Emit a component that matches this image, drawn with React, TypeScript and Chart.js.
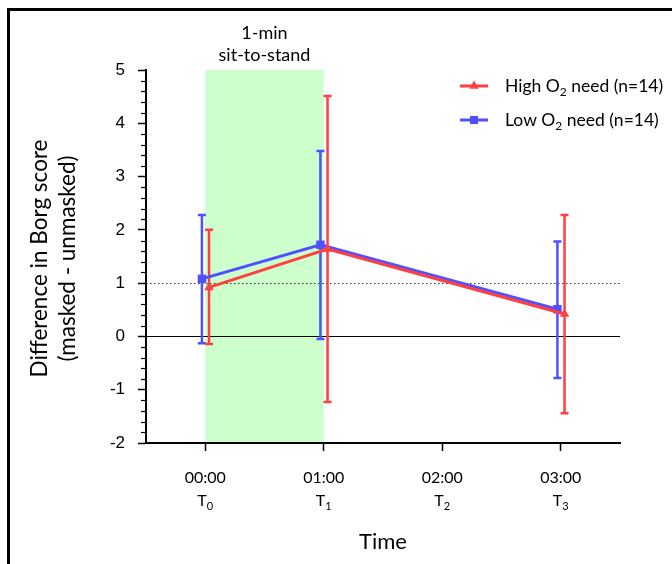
import React, { useEffect, useRef } from 'react';
import { Chart, registerables } from 'chart.js';

Chart.register(...registerables);

// ---- data ----
const timePoints = [0, 1, 3];
const tickHours = [0, 1, 2, 3];
const tickTimes = ['00:00', '01:00', '02:00', '03:00'];
const tickSubs = ['0', '1', '2', '3'];
const yMajorTicks = [-2, -1, 0, 1, 2, 3, 4, 5];

const highMean = [0.92, 1.64, 0.42];
const highLower = [-0.14, -1.23, -1.44];
const highUpper = [2.0, 4.51, 2.28];

const lowMean = [1.08, 1.72, 0.51];
const lowLower = [-0.13, -0.05, -0.78];
const lowUpper = [2.28, 3.48, 1.78];

const highLabelParts = ['High O', '2', ' need (n=14)'];
const lowLabelParts = ['Low O', '2', ' need (n=14)'];

const bandStart = 0;
const bandEnd = 1;
const bandLabel = ['1-min', 'sit-to-stand'];
const yTitle = ['Difference in Borg score', '(masked - unmasked)'];
const xTitle = 'Time';
const refLineDotted = 1;
const refLineSolid = 0;

const RED = '#ff4040';
const BLUE = '#5050ff';
const OFF_HIGH = 0.032;
const OFF_LOW = -0.028;

const LATO = 'Lato, "Open Sans", sans-serif';

function drawSubText(ctx: CanvasRenderingContext2D, parts: string[], x: number, y: number, size: number, align: 'left' | 'center') {
  ctx.font = `${size}px ${LATO}`;
  const w0 = ctx.measureText(parts[0]).width;
  const w2 = ctx.measureText(parts[2] || '').width;
  ctx.font = `${Math.round(size * 0.68)}px ${LATO}`;
  const w1 = ctx.measureText(parts[1]).width;
  const total = w0 + w1 + w2;
  let sx = align === 'center' ? x - total / 2 : x;
  ctx.textAlign = 'left';
  ctx.textBaseline = 'alphabetic';
  ctx.font = `${size}px ${LATO}`;
  ctx.fillText(parts[0], sx, y);
  ctx.font = `${Math.round(size * 0.68)}px ${LATO}`;
  ctx.fillText(parts[1], sx + w0, y + size * 0.22);
  ctx.font = `${size}px ${LATO}`;
  if (parts[2]) ctx.fillText(parts[2], sx + w0 + w1, y);
}

const customPlugin = {
  id: 'customDecor',
  beforeDraw(chart: any) {
    const { ctx, chartArea: ca, scales } = chart;
    const x = scales.x;
    ctx.save();
    ctx.fillStyle = '#000';
    ctx.fillRect(7, 8, chart.width - 7, 3);
    ctx.fillRect(7, 8, 3, chart.height - 8);
    const x0 = x.getPixelForValue(bandStart);
    const x1 = x.getPixelForValue(bandEnd);
    ctx.fillStyle = '#ccffcc';
    ctx.fillRect(x0, ca.top, x1 - x0, ca.bottom - ca.top);
    ctx.restore();
  },
  beforeDatasetsDraw(chart: any) {
    const { ctx, chartArea: ca, scales } = chart;
    const x = scales.x;
    const y = scales.y;
    ctx.save();
    // reference lines
    ctx.strokeStyle = '#000';
    ctx.lineWidth = 1.2;
    ctx.beginPath();
    const y0 = Math.round(y.getPixelForValue(refLineSolid)) + 0.5;
    ctx.moveTo(ca.left, y0);
    ctx.lineTo(ca.right, y0);
    ctx.stroke();
    ctx.setLineDash([1.5, 2.5]);
    ctx.lineWidth = 1;
    ctx.strokeStyle = '#333';
    ctx.beginPath();
    const y1 = Math.round(y.getPixelForValue(refLineDotted)) + 0.5;
    ctx.moveTo(ca.left, y1);
    ctx.lineTo(ca.right, y1);
    ctx.stroke();
    ctx.setLineDash([]);
    // error bars
    const series = [
      { lo: lowLower, hi: lowUpper, off: OFF_LOW, color: BLUE },
      { lo: highLower, hi: highUpper, off: OFF_HIGH, color: RED },
    ];
    series.forEach((s) => {
      ctx.strokeStyle = s.color;
      ctx.lineWidth = 2.5;
      timePoints.forEach((t, i) => {
        const px = x.getPixelForValue(t + s.off);
        const pLo = y.getPixelForValue(s.lo[i]);
        const pHi = y.getPixelForValue(s.hi[i]);
        ctx.beginPath();
        ctx.moveTo(px, pLo);
        ctx.lineTo(px, pHi);
        ctx.moveTo(px - 4, pLo);
        ctx.lineTo(px + 4, pLo);
        ctx.moveTo(px - 4, pHi);
        ctx.lineTo(px + 4, pHi);
        ctx.stroke();
      });
    });
    ctx.restore();
  },
  afterDraw(chart: any) {
    const { ctx, chartArea: ca, scales } = chart;
    const x = scales.x;
    const y = scales.y;
    ctx.save();
    // y minor ticks
    ctx.strokeStyle = '#000';
    ctx.lineWidth = 1.2;
    for (let k = -10; k <= 25; k++) {
      if (k % 5 === 0) continue;
      const v = k / 5;
      const py = Math.round(y.getPixelForValue(v)) + 0.5;
      ctx.beginPath();
      ctx.moveTo(ca.left - 5, py);
      ctx.lineTo(ca.left, py);
      ctx.stroke();
    }
    ctx.fillStyle = '#000';
    // x tick labels
    tickHours.forEach((h, i) => {
      const px = x.getPixelForValue(h);
      ctx.font = `16px ${LATO}`;
      ctx.textAlign = 'center';
      ctx.textBaseline = 'alphabetic';
      ctx.fillText(tickTimes[i], px, 483);
      drawSubText(ctx, ['T', tickSubs[i], ''], px, 506, 16, 'center');
    });
    // x title
    ctx.font = `22px ${LATO}`;
    ctx.textAlign = 'center';
    ctx.textBaseline = 'alphabetic';
    ctx.fillText(xTitle, (ca.left + ca.right) / 2, 549);
    // y title
    const cy = (ca.top + ca.bottom) / 2 + 2;
    [47, 75].forEach((bx, i) => {
      ctx.save();
      ctx.translate(bx, cy);
      ctx.rotate(-Math.PI / 2);
      ctx.font = `22.5px ${LATO}`;
      ctx.textAlign = 'center';
      ctx.textBaseline = 'alphabetic';
      ctx.fillText(yTitle[i], 0, 0);
      ctx.restore();
    });
    // band label
    const bx = (x.getPixelForValue(bandStart) + x.getPixelForValue(bandEnd)) / 2;
    ctx.font = `18px ${LATO}`;
    ctx.textAlign = 'center';
    ctx.fillText(bandLabel[0], bx, 39);
    ctx.fillText(bandLabel[1], bx, 61);
    // legend
    const legend = [
      { parts: highLabelParts, color: RED, style: 'triangle', ly: 86 },
      { parts: lowLabelParts, color: BLUE, style: 'rect', ly: 120 },
    ];
    legend.forEach((l) => {
      ctx.strokeStyle = l.color;
      ctx.fillStyle = l.color;
      ctx.lineWidth = 3;
      ctx.beginPath();
      ctx.moveTo(460, l.ly);
      ctx.lineTo(488, l.ly);
      ctx.stroke();
      ctx.beginPath();
      if (l.style === 'triangle') {
        const r = 5.5;
        ctx.moveTo(474, l.ly - r);
        ctx.lineTo(474 + r * 0.866, l.ly + r * 0.5);
        ctx.lineTo(474 - r * 0.866, l.ly + r * 0.5);
        ctx.closePath();
        ctx.fill();
      } else {
        ctx.fillRect(470, l.ly - 4, 8, 8);
      }
      ctx.fillStyle = '#000';
      drawSubText(ctx, l.parts, 505, l.ly + 6, 17.5, 'left');
    });
    ctx.restore();
  },
};

export default function App() {
  const ref = useRef<HTMLCanvasElement | null>(null);
  useEffect(() => {
    document.body.style.margin = '0';
    const canvas = ref.current;
    if (!canvas) return;
    const chart = new Chart(canvas, {
      type: 'line',
      data: {
        datasets: [
          {
            label: 'High O2 need (n=14)',
            data: timePoints.map((t, i) => ({ x: t + OFF_HIGH, y: highMean[i] })),
            borderColor: RED,
            backgroundColor: RED,
            borderWidth: 3,
            pointStyle: 'triangle',
            pointRadius: 5.5,
            pointBorderWidth: 0,
            tension: 0,
          },
          {
            label: 'Low O2 need (n=14)',
            data: timePoints.map((t, i) => ({ x: t + OFF_LOW, y: lowMean[i] })),
            borderColor: BLUE,
            backgroundColor: BLUE,
            borderWidth: 3,
            pointStyle: 'rect',
            pointRadius: 6,
            pointBorderWidth: 0,
            tension: 0,
          },
        ],
      },
      options: {
        responsive: false,
        animation: false,
        layout: { padding: { left: 0, top: 70, right: 52, bottom: 0 } },
        plugins: { legend: { display: false }, tooltip: { enabled: false } },
        scales: {
          x: {
            type: 'linear',
            min: -0.5,
            max: 3.5,
            afterBuildTicks: (scale: any) => {
              scale.ticks = tickHours.map((v) => ({ value: v }));
            },
            afterFit: (scale: any) => {
              scale.height = 121;
            },
            ticks: { display: false },
            grid: { display: true, drawOnChartArea: false, drawTicks: true, tickLength: 8, tickColor: '#000', tickWidth: 1.5 },
            border: { display: true, color: '#000', width: 2 },
          },
          y: {
            type: 'linear',
            min: -2,
            max: 5,
            afterBuildTicks: (scale: any) => {
              scale.ticks = yMajorTicks.map((v) => ({ value: v }));
            },
            afterFit: (scale: any) => {
              scale.width = 146;
            },
            ticks: {
              color: '#000',
              padding: 13,
              font: { family: '"Liberation Sans", Arial, sans-serif', size: 17 },
              callback: (v: any) => String(v),
            },
            grid: { display: true, drawOnChartArea: false, drawTicks: true, tickLength: 8, tickColor: '#000', tickWidth: 1.5 },
            border: { display: true, color: '#000', width: 2 },
          },
        },
      },
      plugins: [customPlugin],
    } as any);
    return () => chart.destroy();
  }, []);
  return (
    <div style={{ width: 672, height: 564 }}>
      <canvas ref={ref} width={672} height={564} />
    </div>
  );
}
